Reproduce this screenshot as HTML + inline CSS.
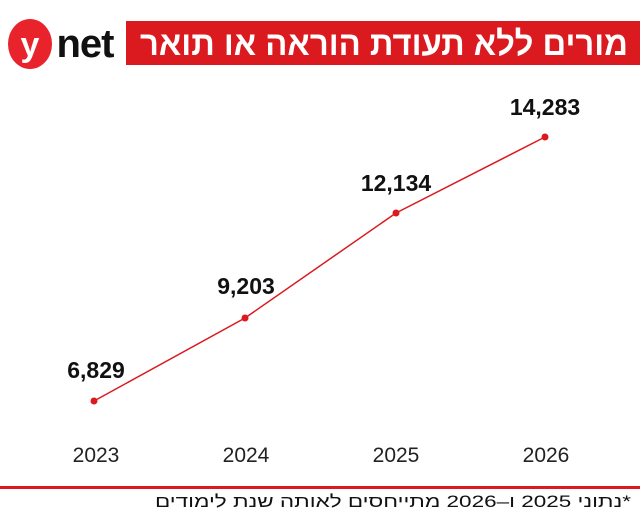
<!DOCTYPE html>
<html><head><meta charset="utf-8"><style>
body{margin:0;width:640px;height:527px;background:#fff;overflow:hidden;font-family:"Liberation Sans",sans-serif;position:relative}
</style></head><body>
<svg width="640" height="527" style="position:absolute;left:0;top:0">
<rect x="126" y="21" width="514" height="44" fill="#da1a1f"/>
<text x="140" y="55" fill="#fff" font-family="Liberation Sans, Noto Sans CJK JP, sans-serif" font-size="34" font-weight="bold" textLength="488" lengthAdjust="spacingAndGlyphs" direction="rtl" unicode-bidi="embed" text-anchor="end">מורים ללא תעודת הוראה או תואר</text>
<ellipse cx="30" cy="44" rx="22" ry="25" fill="#e8232b"/>
<text x="30" y="56" fill="#fff" font-family="Liberation Sans" font-size="34" font-weight="bold" text-anchor="middle">y</text>
<text x="85" y="57" fill="#111" font-family="Liberation Sans" font-size="40" font-weight="bold" text-anchor="middle" letter-spacing="-1">net</text>
<polyline points="94,401 245,318 396,213 545,137" fill="none" stroke="#da1a1f" stroke-width="1.5"/>
<g fill="#da1a1f"><circle cx="94" cy="401" r="3.5"/><circle cx="245" cy="318" r="3.5"/><circle cx="396" cy="213" r="3.5"/><circle cx="545" cy="137" r="3.5"/></g>
<g font-family="Liberation Sans" font-size="23" font-weight="bold" fill="#111" text-anchor="middle">
<text x="96" y="378">6,829</text><text x="246" y="294">9,203</text><text x="396" y="191">12,134</text><text x="545" y="115">14,283</text></g>
<g font-family="Liberation Sans" font-size="21" fill="#222" text-anchor="middle">
<text x="96" y="462">2023</text><text x="246" y="462">2024</text><text x="396" y="462">2025</text><text x="546" y="462">2026</text></g>
<rect x="0" y="486" width="640" height="3" fill="#da1a1f"/>
<text x="155" y="507" fill="#111" font-family="Liberation Sans, Noto Sans CJK JP, sans-serif" font-size="17" textLength="476" lengthAdjust="spacingAndGlyphs" direction="rtl" unicode-bidi="embed" text-anchor="end">*נתוני 2025 ו–2026 מתייחסים לאותה שנת לימודים</text>
</svg>
</body></html>
